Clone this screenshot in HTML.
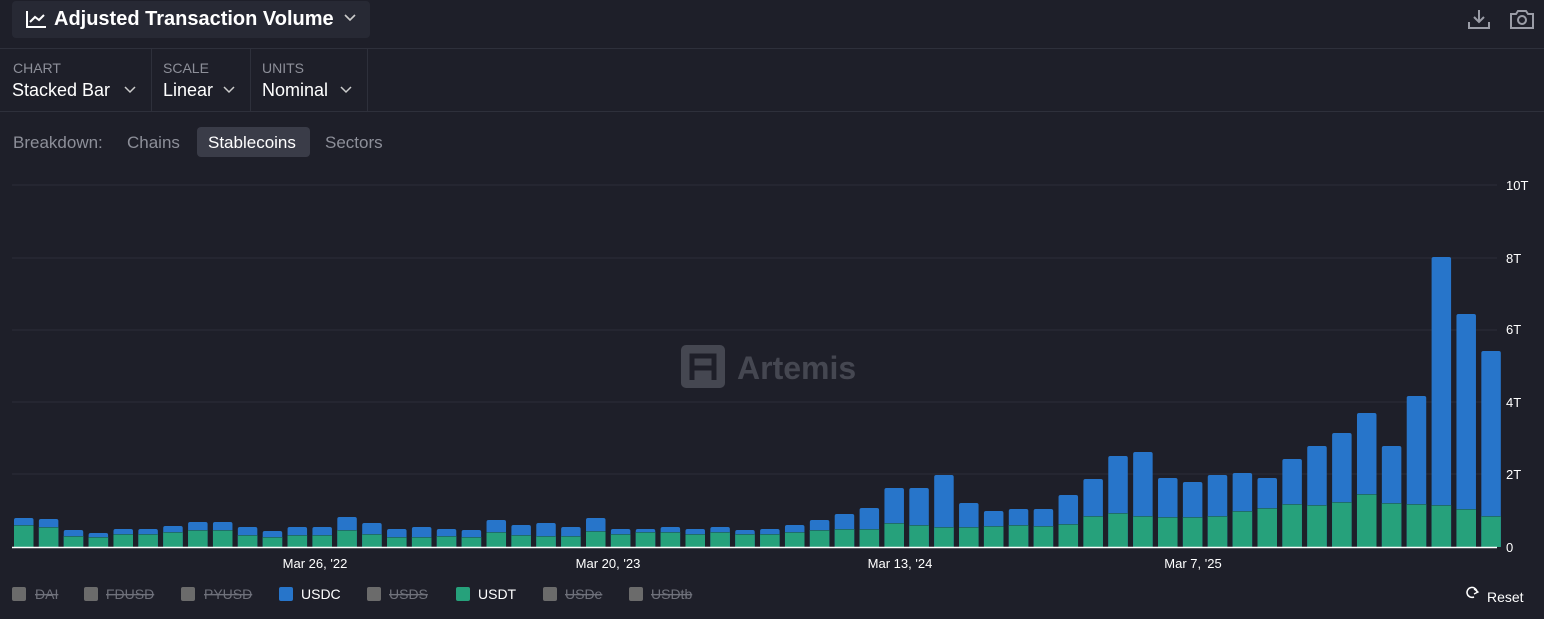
<!DOCTYPE html>
<html><head><meta charset="utf-8"><style>
body{margin:0;width:1544px;height:619px;background:#1e1f29;font-family:"Liberation Sans",sans-serif;overflow:hidden;position:relative;color:#fff}
.a{position:absolute}
</style></head><body>
<div class="a" style="left:12px;top:1px;width:358px;height:37px;background:#272934;border-radius:4px"></div>
<svg class="a" style="left:25px;top:9px" width="22" height="20"><path d="M2 2V18H21" stroke="#fff" stroke-width="2" fill="none"/><path d="M5 13L10 8L14 11L19 6" stroke="#fff" stroke-width="2" fill="none"/></svg>
<div class="a" style="left:54px;top:8px;font-size:20px;font-weight:bold">Adjusted Transaction Volume</div>
<svg class="a" style="left:344px;top:14px" width="12" height="8"><path d="M1 1L6 6L11 1" stroke="#ccc" stroke-width="1.6" fill="none"/></svg>
<svg class="a" style="left:1467px;top:8px" width="24" height="22"><path d="M12 2V14M7 9L12 14L17 9M2 14V20H22V14" stroke="#9a9ca6" stroke-width="2" fill="none"/></svg>
<svg class="a" style="left:1509px;top:9px" width="26" height="20"><path d="M2 5H7L9 2H17L19 5H24V19H2Z" stroke="#9a9ca6" stroke-width="2" fill="none"/><circle cx="13" cy="11" r="4" stroke="#9a9ca6" stroke-width="2" fill="none"/></svg>
<div class="a" style="left:0;top:48px;width:1544px;height:1px;background:#2e303b"></div>
<div class="a" style="left:0;top:111px;width:1544px;height:1px;background:#2e303b"></div>
<div class="a" style="left:151px;top:48px;width:1px;height:63px;background:#2e303b"></div>
<div class="a" style="left:250px;top:48px;width:1px;height:63px;background:#2e303b"></div>
<div class="a" style="left:367px;top:48px;width:1px;height:63px;background:#2e303b"></div>
<div class="a" style="left:13px;top:60px;font-size:14px;color:#8d8f99">CHART</div>
<div class="a" style="left:163px;top:60px;font-size:14px;color:#8d8f99">SCALE</div>
<div class="a" style="left:262px;top:60px;font-size:14px;color:#8d8f99">UNITS</div>
<div class="a" style="left:12px;top:80px;font-size:18px">Stacked Bar</div>
<div class="a" style="left:163px;top:80px;font-size:18px">Linear</div>
<div class="a" style="left:262px;top:80px;font-size:18px">Nominal</div>
<svg class="a" style="left:0;top:0" width="400" height="110"><g stroke="#ccc" stroke-width="1.5" fill="none"><path d="M125 87L130 92L135 87"/><path d="M224 87L229 92L234 87"/><path d="M341 87L346 92L351 87"/></g></svg>
<div class="a" style="left:13px;top:133px;font-size:17px;color:#8d8f99">Breakdown:</div>
<div class="a" style="left:127px;top:133px;font-size:17px;color:#8d8f99">Chains</div>
<div class="a" style="left:197px;top:127px;width:113px;height:30px;background:#3a3c48;border-radius:4px"></div>
<div class="a" style="left:208px;top:133px;font-size:17px;color:#fff">Stablecoins</div>
<div class="a" style="left:325px;top:133px;font-size:17px;color:#8d8f99">Sectors</div>
<svg class="a" style="left:0;top:0" width="1544" height="619" font-family="Liberation Sans, sans-serif">
<g stroke="#2c2e39" stroke-width="1"><line x1="12" x2="1497" y1="185" y2="185"/><line x1="12" x2="1497" y1="258" y2="258"/><line x1="12" x2="1497" y1="330" y2="330"/><line x1="12" x2="1497" y1="402" y2="402"/><line x1="12" x2="1497" y1="474" y2="474"/></g>
<g fill="#fff" font-size="13"><text x="1506" y="190">10T</text><text x="1506" y="263">8T</text><text x="1506" y="334">6T</text><text x="1506" y="407">4T</text><text x="1506" y="479">2T</text><text x="1506" y="552">0</text></g>
<g fill="#fff" font-size="13" text-anchor="middle"><text x="315" y="568">Mar 26, '22</text><text x="608" y="568">Mar 20, '23</text><text x="900" y="568">Mar 13, '24</text><text x="1193" y="568">Mar 7, '25</text></g>
<g opacity="0.9"><rect x="681" y="345" width="44" height="43" rx="5" fill="#4a4c56"/><path d="M692 380V356H714V380M692 368H714" stroke="#1e1f29" stroke-width="5" fill="none"/><text x="737" y="379" font-size="32" font-weight="bold" fill="#4a4c56">Artemis</text></g>
<g id="bars"></g>
<line x1="12" x2="1497" y1="547.5" y2="547.5" stroke="#fff" stroke-width="1.5"/>
<g font-size="14">
<rect x="12" y="587" width="14" height="14" rx="2" fill="#6b6b6b"/><text x="35" y="599" fill="#6f717b" text-decoration="line-through">DAI</text>
<rect x="84" y="587" width="14" height="14" rx="2" fill="#6b6b6b"/><text x="106" y="599" fill="#6f717b" text-decoration="line-through">FDUSD</text>
<rect x="181" y="587" width="14" height="14" rx="2" fill="#6b6b6b"/><text x="204" y="599" fill="#6f717b" text-decoration="line-through">PYUSD</text>
<rect x="279" y="587" width="14" height="14" rx="2" fill="#2775ca"/><text x="301" y="599" fill="#fff">USDC</text>
<rect x="367" y="587" width="14" height="14" rx="2" fill="#6b6b6b"/><text x="389" y="599" fill="#6f717b" text-decoration="line-through">USDS</text>
<rect x="456" y="587" width="14" height="14" rx="2" fill="#26a17b"/><text x="478" y="599" fill="#fff">USDT</text>
<rect x="543" y="587" width="14" height="14" rx="2" fill="#6b6b6b"/><text x="565" y="599" fill="#6f717b" text-decoration="line-through">USDe</text>
<rect x="629" y="587" width="14" height="14" rx="2" fill="#6b6b6b"/><text x="651" y="599" fill="#6f717b" text-decoration="line-through">USDtb</text>
<path d="M1477 592A5 5 0 1 0 1474 597" stroke="#fff" stroke-width="1.5" fill="none"/><path d="M1474 589L1478 592L1474 594" stroke="#fff" stroke-width="1.3" fill="none"/>
<text x="1487" y="602" fill="#fff">Reset</text></g>
</svg>
<script>
var t=[518,519,530,533,529,529,526,522,522,527,531,527,527,517,523,529,527,529,530,520,525,523,527,518,529,529,527,529,527,530,529,525,520,514,508,488,488,475,503,511,509,509,495,479,456,452,478,482,475,473,478,459,446,433,413,446,396,257,314,351];
var g=[525,527,536,537,534,534,532,530,530,535,537,535,535,530,534,537,537,536,537,532,535,536,536,531,534,532,532,534,532,534,534,532,530,529,529,523,525,527,527,526,525,526,524,516,513,516,517,517,516,511,508,504,505,502,494,503,504,505,509,516];
var s='';for(var i=0;i<60;i++){var x=14+i*24.87;s+='<path d="M'+x+' 547V'+(t[i]+2)+'Q'+x+' '+t[i]+' '+(x+2)+' '+t[i]+'H'+(x+17.5)+'Q'+(x+19.5)+' '+t[i]+' '+(x+19.5)+' '+(t[i]+2)+'V547Z" fill="#2775ca"/><rect x="'+x+'" y="'+g[i]+'" width="19.5" height="'+(547-g[i])+'" fill="#26a17b"/><rect x="'+x+'" y="'+g[i]+'" width="19.5" height="1" fill="#1f6e6a"/>';}
document.getElementById('bars').innerHTML=s;
</script>
</body></html>
